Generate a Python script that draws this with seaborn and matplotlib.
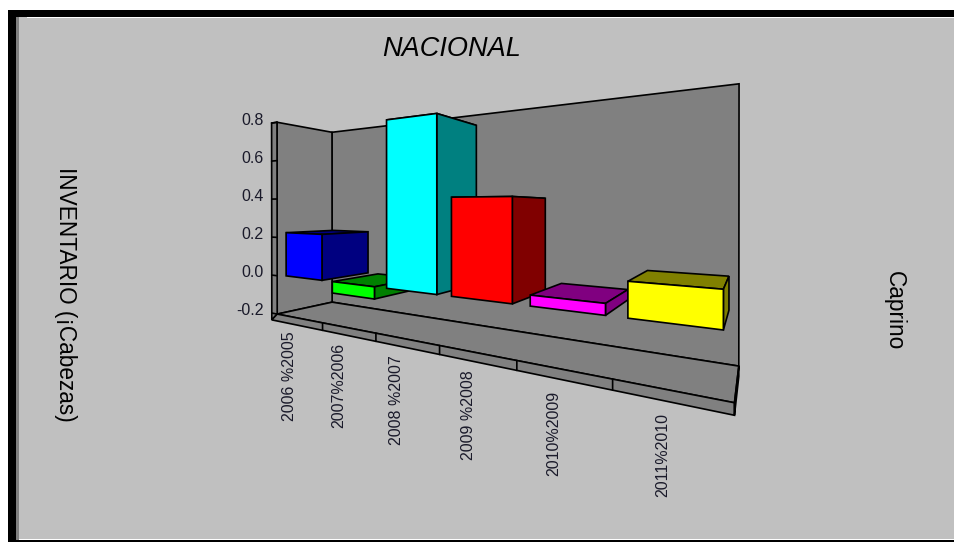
import matplotlib
matplotlib.use("Agg")
import matplotlib.pyplot as plt
import seaborn as sns
import numpy as np
import pandas as pd
from matplotlib.patches import Polygon, Rectangle
from matplotlib.transforms import Transform

# values
periods = ['2006 %2005', '2007%2006', '2008 %2007', '2009 %2008', '2010%2009', '2011%2010']
values = [0.225, -0.055, 0.745, 0.40, 0.04, 0.12]
front_colors = ['#0000ff', '#00ff00', '#00ffff', '#ff0000', '#ff00ff', '#ffff00']
side_colors = ['#000080', '#008000', '#008080', '#800000', '#800080', '#808000']
y_ticks = [-0.2, 0.0, 0.2, 0.4, 0.6, 0.8]

# chart box in model coordinates (x = category, y = value, z = depth)
x_lo, x_hi = -0.52, 5.48
y_lo, y_hi = -0.2, 0.8
dx, dy = 0.13, 0.036
bar_width = 0.79
z_front, z_back = 0.06, 0.92

WALL = '#808080'
PANEL = '#c0c0c0'

# box corners -> pixels, this fixes the perspective camera
anchors = [
    ((x_lo, y_lo, 0), (277, 314)),
    ((x_lo, y_hi, 0), (277, 122)),
    ((x_lo, y_lo, 1), (332, 302)),
    ((x_lo, y_hi, 1), (332, 132.7)),
    ((x_hi, y_lo, 1), (739, 366)),
    ((x_hi, y_hi, 1), (739, 83.5)),
    ((x_hi, y_lo, 0), (734, 403)),
    ((x_lo + 1, y_lo, 0), (322.7, 323)),
    ((x_lo + 2, y_lo, 0), (375.7, 333)),
    ((x_lo + 3, y_lo, 0), (440.3, 345.7)),
    ((x_lo + 4, y_lo, 0), (517, 360.7)),
    ((x_lo + 5, y_lo, 0), (612.3, 379.3)),
]


def fit_camera(pairs):
    rows = []
    for (X, Y, Z), (u, v) in pairs:
        rows.append([X, Y, Z, 1, 0, 0, 0, 0, -u * X, -u * Y, -u * Z, -u])
        rows.append([0, 0, 0, 0, X, Y, Z, 1, -v * X, -v * Y, -v * Z, -v])
    return np.linalg.svd(np.array(rows, dtype=float))[2][-1].reshape(3, 4)


P = fit_camera(anchors)


def project(x, y, z):
    x, y, z = np.broadcast_arrays(x, y, z)
    h = P @ np.vstack([x.ravel(), y.ravel(), z.ravel(), np.ones(x.size)])
    return np.column_stack([h[0] / h[2], h[1] / h[2]])


class PlaneTransform(Transform):
    # maps (category, value) on a plane of constant depth to picture pixels
    input_dims = 2
    output_dims = 2
    is_affine = False

    def __init__(self, plane_z):
        super().__init__()
        self.plane_z = plane_z

    def transform_non_affine(self, values):
        values = np.asarray(values, dtype=float)
        return project(values[:, 0], values[:, 1], self.plane_z)


sns.set_theme(style="white")
plt.rcParams['font.family'] = ['Liberation Sans', 'DejaVu Sans']

fig = plt.figure(figsize=(9.5401, 5.4201), dpi=100, facecolor=PANEL)
ax = fig.add_axes([0, 0, 1, 1])

data = pd.DataFrame({'period': periods, 'value': values})
sns.barplot(data=data, x='period', y='value', hue='period', palette=front_colors,
            saturation=1, width=bar_width, edgecolor='black', linewidth=1.2,
            legend=False, ax=ax)

ax.set_xlim(0, 954)
ax.set_ylim(542, 0)
ax.axis('off')


def face(points, color, zorder=2):
    pts = project(*np.array(points, dtype=float).T)
    ax.add_patch(Polygon(pts, closed=True, facecolor=color, edgecolor='black',
                         linewidth=1.2, zorder=zorder))


# walls and floor slab
y_slab = y_lo - dy
face([(x_lo, y_hi, 1), (x_hi, y_hi, 1), (x_hi, y_lo, 1), (x_lo, y_lo, 1)], WALL)
face([(x_lo, y_hi, 0), (x_lo, y_hi, 1), (x_lo, y_lo, 1), (x_lo, y_lo, 0)], WALL)
face([(x_lo, y_lo, 0), (x_lo, y_lo, 1), (x_hi, y_lo, 1), (x_hi, y_lo, 0)], WALL)
face([(x_lo - dx, y_hi, 0), (x_lo, y_hi, 0), (x_lo, y_lo, 0), (x_lo - dx, y_slab, 0)], WALL)
face([(x_lo - dx, y_slab, 0), (x_hi, y_slab, 0), (x_hi, y_lo, 0), (x_lo, y_lo, 0)], WALL)
face([(x_hi, y_lo, 1), (x_hi, y_slab, 1), (x_hi, y_slab, 0), (x_hi, y_lo, 0)], WALL)

for i in range(1, len(periods)):
    ax.plot(*project(x_lo + i, [y_lo, y_slab], 0).T, color='black', lw=1.2, zorder=3)
for tick in y_ticks:
    ax.plot(*project([x_lo - dx, x_lo], tick, 0).T, color='black', lw=1.2, zorder=3)
    u, v = project(x_lo - dx, tick, 0)[0]
    ax.text(u - 8, v - 3, f'{tick:.1f}', ha='right', va='center', fontsize=11.5,
            color='#1a1a2a')

# bars: seaborn gives the front faces, depth faces are added on the same values
plane = PlaneTransform(z_front)
for i, (bar, val) in enumerate(zip(ax.patches[:len(values)], values)):
    bar.set_transform(plane + ax.transData)
    bar.set_zorder(11 + 2 * i)
    left, right = i - bar_width / 2, i + bar_width / 2
    lo, hi = min(val, 0), max(val, 0)
    face([(left, hi, z_front), (right, hi, z_front), (right, hi, z_back), (left, hi, z_back)],
         side_colors[i], 10 + 2 * i)
    face([(right, hi, z_front), (right, hi, z_back), (right, lo, z_back), (right, lo, z_front)],
         side_colors[i], 10 + 2 * i)

# period labels
label_x = [289.3, 338.7, 396, 468, 553.3, 662.7]
label_top = [331.7, 343, 355.7, 370, 391, 413]
for name, x, top in zip(periods, label_x, label_top):
    ax.text(x, top, name, rotation=90, ha='center', va='top', fontsize=11.5, color='#1a1a2a')

ax.text(452, 49, 'NACIONAL', style='italic', ha='center', va='center', fontsize=19.5, color='black')
ax.text(65, 294, 'INVENTARIO (¡Cabezas)', rotation=270, ha='center', va='center',
        fontsize=16.3, color='black')
ax.text(894, 311, 'Caprino', rotation=270, ha='center', va='center', fontsize=16.3, color='black')

# window frame
for x, y, w, h, c in [(0, 0, 8, 542, 'white'), (0, 0, 954, 10, 'white'),
                      (8, 10, 946, 7, 'black'), (8, 10, 8, 532, 'black'),
                      (16, 17, 3, 523, WALL), (27, 17, 927, 1, 'white'),
                      (19, 539, 935, 1, 'white'), (8, 540, 946, 2, 'black')]:
    ax.add_patch(Rectangle((x, y), w, h, facecolor=c, edgecolor='none', zorder=30))

fig.savefig('out.png', dpi=100)
